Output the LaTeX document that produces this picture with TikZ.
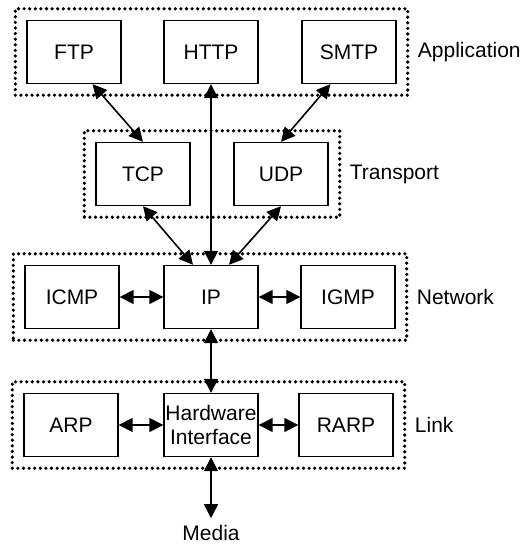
\documentclass[tikz,border=0pt]{standalone}
\usepackage{fontspec}
\setmainfont{Liberation Sans}
\usetikzlibrary{arrows.meta,fit}

\begin{document}
\begin{tikzpicture}[x=0.5pt,y=-0.5pt,font=\fontsize{10.5}{12}\selectfont,>={Triangle[length=7pt,width=7pt]}]
  \tikzstyle{proto}=[draw,line width=0.7pt,minimum width=47pt,minimum height=31.5pt,inner sep=0pt,align=center]
  \tikzstyle{layer}=[draw,line width=1.8pt,dash pattern=on 0pt off 2.8pt,line cap=round,inner sep=5.5pt]
  \tikzstyle{conn}=[<->,line width=0.8pt]

  \useasboundingbox (0,0) rectangle (524,544);

  \foreach \name/\x/\y/\text in {ftp/74/52/FTP, http/211/52/HTTP, smtp/349/52/SMTP, tcp/143/174/TCP, udp/281/174/UDP, icmp/72/297/ICMP, ip/211/297/IP, igmp/348/297/IGMP, arp/71/425/ARP, hw/211/425/{Hardware\\Interface}, rarp/346/425/RARP}
    \node[proto] (\name) at (\x,\y) {\text};

  \node[layer,fit=(ftp)(http)(smtp)] (application) {};
  \node[layer,fit=(tcp)(udp)] (transport) {};
  \node[layer,fit=(icmp)(ip)(igmp)] (network) {};
  \node[layer,fit=(arp)(hw)(rarp)] (link) {};

  \foreach \name/\text in {application/Application, transport/Transport, network/Network, link/Link}
    \node[anchor=west,inner sep=1pt] (\name-label) at ([xshift=3pt]\name.east) {\text};

  \node (media) at (211,533) {Media};

  \draw[conn] (ftp.-60) -- (tcp.north);
  \draw[conn] (smtp.-120) -- (udp.north);
  \draw[conn] (http.south) -- (ip.north);
  \draw[conn] (tcp.south) -- ([xshift=-9pt]ip.north);
  \draw[conn] (udp.south) -- ([xshift=9pt]ip.north);

  \foreach \from/\to in {icmp/ip, ip/igmp, ip/hw, arp/hw, hw/rarp, hw/media}
    { \draw[conn] (\from) -- (\to); }
\end{tikzpicture}
\end{document}
